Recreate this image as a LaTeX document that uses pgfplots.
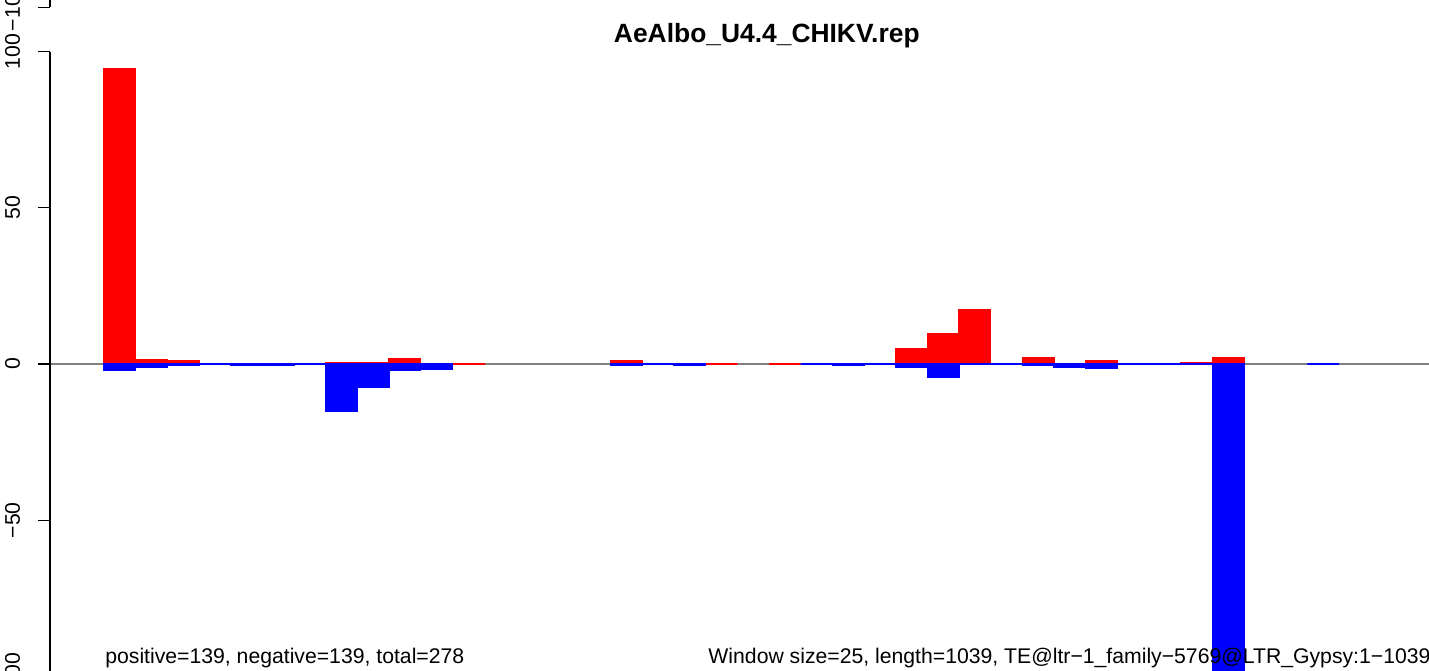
\documentclass[border=0pt]{standalone}
\usepackage{pgfplots}
\pgfplotsset{compat=1.18}
\usepackage{fontspec}
\setmainfont{Liberation Sans}
\definecolor{zeroline}{RGB}{128,128,128}
\begin{document}
\begin{tikzpicture}
\begin{axis}[
  scale only axis, width=714.5pt, height=335pt,
  xmin=-3.284, xmax=41.84, ymin=-97.92, ymax=116.48,
  hide axis, clip=false,
]
% zero line first, bars go over it
\draw[zeroline, line width=0.7pt] (axis cs:-1.705,0) -- (axis cs:41.84,0);

% positive counts per window (bar i spans i..i+1)
\addplot[ybar, bar width=1, bar shift=0pt, fill=red, draw=red, line width=0.6pt]
  coordinates {(0.5,94.6) (1.5,1.3) (2.5,1.0) (5.5,0.2) (7.5,0.5) (8.5,0.3)
    (9.5,1.6) (10.5,0) (11.5,0.1) (16.5,1.0) (18.5,0.1) (19.5,0) (21.5,0)
    (23.5,0.1) (24.5,0.1) (25.5,4.8) (26.5,9.8) (27.5,17.5) (29.5,2.2)
    (31.5,1.0) (32.5,0.1) (34.5,0.6) (35.5,1.9)};

% negative counts per window
\addplot[ybar, bar width=1, bar shift=0pt, fill=blue, draw=blue, line width=0.6pt]
  coordinates {(0.5,-1.9) (1.5,-1.0) (2.5,-0.6) (3.5,0) (4.5,-0.3) (5.5,-0.3)
    (6.5,0) (7.5,-15.3) (8.5,-7.4) (9.5,-2.2) (10.5,-1.6) (16.5,-0.3) (17.5,0)
    (18.5,-0.3) (22.5,0) (23.5,-0.3) (24.5,-0.2) (25.5,-1.0) (26.5,-4.4)
    (27.5,-0.2) (28.5,-0.1) (29.5,-0.6) (30.5,-1.0) (31.5,-1.3) (32.5,-0.1)
    (33.5,-0.1) (34.5,-0.1) (35.5,-100) (38.5,0)};

% y axis, R style
\draw[line width=0.6pt] (axis cs:-1.705,-100) -- (axis cs:-1.705,100);
\draw[line width=0.6pt] (axis cs:-1.705,114.2) -- (axis cs:-1.705,120);
\draw[line width=0.6pt] (axis cs:-1.705,-100) -- (axis cs:-2.084,-100);
\draw[line width=0.6pt] (axis cs:-1.705,-50) -- (axis cs:-2.084,-50);
\draw[line width=0.6pt] (axis cs:-1.705,0) -- (axis cs:-2.084,0);
\draw[line width=0.6pt] (axis cs:-1.705,50) -- (axis cs:-2.084,50);
\draw[line width=0.6pt] (axis cs:-1.705,100) -- (axis cs:-2.084,100);
\draw[line width=0.6pt] (axis cs:-1.705,114.2) -- (axis cs:-2.084,114.2);
\node[rotate=90, font=\fontsize{10.6}{12}\selectfont, inner sep=0pt] at (axis cs:-2.89,114.2) {−100};
\node[rotate=90, font=\fontsize{10.6}{12}\selectfont, inner sep=0pt] at (axis cs:-2.89,100) {100};
\node[rotate=90, font=\fontsize{10.6}{12}\selectfont, inner sep=0pt] at (axis cs:-2.89,50) {50};
\node[rotate=90, font=\fontsize{10.6}{12}\selectfont, inner sep=0pt] at (axis cs:-2.89,0) {0};
\node[rotate=90, font=\fontsize{10.6}{12}\selectfont, inner sep=0pt] at (axis cs:-2.89,-50) {−50};
\node[rotate=90, font=\fontsize{10.6}{12}\selectfont, inner sep=0pt] at (axis cs:-2.89,-100) {−100};

% title and footer texts
\node[anchor=base, font=\fontsize{13.2}{15}\selectfont\bfseries, inner sep=0pt]
  at (axis cs:20.93,103.0) {AeAlbo\_U4.4\_CHIKV.rep};
\node[anchor=base west, font=\fontsize{10.6}{12}\selectfont, inner sep=0pt]
  at (axis cs:0.03,-95.7) {positive=139, negative=139, total=278};
\node[anchor=base east, font=\fontsize{10.6}{12}\selectfont, inner sep=0pt]
  at (axis cs:41.9,-95.7) {Window size=25, length=1039, TE@ltr−1\_family−5769@LTR\_Gypsy:1−1039};
\end{axis}
\pgfresetboundingbox
\path[use as bounding box] (0,0) rectangle (714.5pt,335pt);
\end{tikzpicture}
\end{document}
